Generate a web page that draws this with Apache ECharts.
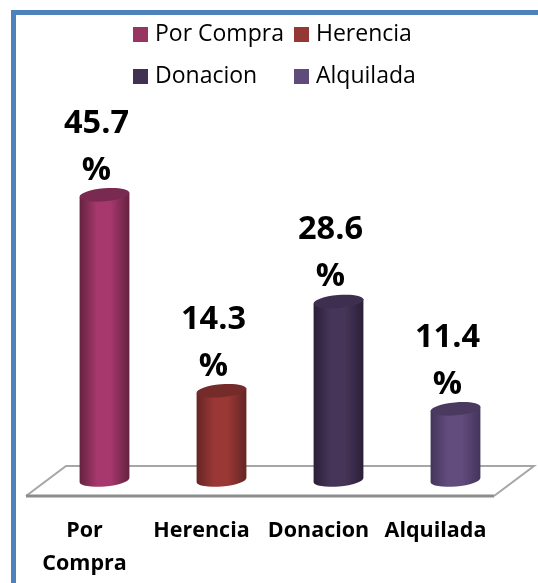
<!DOCTYPE html>
<html>
<head>
<meta charset="utf-8">
<style>
html, body { margin: 0; padding: 0; background: #fff; }
#main { width: 538px; height: 583px; }
</style>
<script src="https://cdn.jsdelivr.net/npm/echarts@6/dist/echarts.min.js"></script>
</head>
<body>
<div id="main"></div>
<script>
var categories = ['Por Compra', 'Herencia', 'Donacion', 'Alquilada'];
var values = [45.7, 14.3, 28.6, 11.4];
var swatchColors = ['#953560', '#953735', '#403152', '#604a7b'];
var midColors = ['#a6386d', '#9a3836', '#473559', '#624c7e'];
var edgeColors = ['#64223f', '#652523', '#2a1f38', '#44345a'];
var topColors = ['#7a2a50', '#752b29', '#3e2f50', '#4b3a60'];

var chart = echarts.init(document.getElementById('main'));

// the cylinders stand on the middle of the floor, not on its front edge
var depthX = 20, depthY = 16, rx = 25, ry = 6.5, tilt = 5;

function renderBar(idx) {
    return function (params, api) {
        var top = api.coord([api.value(0), api.value(1)]);
        var base = api.coord([api.value(0), 0]);
        var cx = top[0] + depthX;
        var yTop = top[1] - depthY;
        var yBase = base[1] - depthY;
        var dx = rx * Math.cos(tilt * Math.PI / 180);
        var dy = rx * Math.sin(tilt * Math.PI / 180);
        var body = 'M' + (cx - dx) + ' ' + (yTop + dy) +
            'L' + (cx - dx) + ' ' + (yBase + dy) +
            'A' + rx + ' ' + ry + ' ' + (-tilt) + ' 0 0 ' + (cx + dx) + ' ' + (yBase - dy) +
            'L' + (cx + dx) + ' ' + (yTop - dy) + 'Z';
        return {
            type: 'group',
            children: [
                {
                    type: 'path',
                    shape: { pathData: body },
                    style: {
                        fill: {
                            type: 'linear', x: 0, y: 0, x2: 1, y2: 0,
                            colorStops: [
                                { offset: 0, color: edgeColors[idx] },
                                { offset: 0.35, color: midColors[idx] },
                                { offset: 0.62, color: midColors[idx] },
                                { offset: 1, color: edgeColors[idx] }
                            ]
                        }
                    }
                },
                {
                    type: 'ellipse',
                    shape: { cx: 0, cy: 0, rx: rx, ry: ry },
                    x: cx,
                    y: yTop,
                    rotation: tilt * Math.PI / 180,
                    style: { fill: topColors[idx] }
                },
                {
                    type: 'text',
                    x: cx - 8,
                    y: yTop - 1,
                    style: {
                        text: api.value(1) + '\n%',
                        fill: '#000',
                        font: 'bold 32.5px "Open Sans"',
                        lineHeight: 47,
                        align: 'center',
                        verticalAlign: 'bottom'
                    }
                }
            ]
        };
    };
}

function renderFloor(params) {
    var g = params.coordSys;
    var left = g.x, right = g.x + g.width, front = g.y + g.height, back = front - 2 * depthY + 2;
    var skew = 40;
    return {
        type: 'group',
        children: [
            { type: 'polyline', shape: { points: [[left, front], [left + skew, back], [right + skew, back], [right, front]] },
              style: { fill: 'none', stroke: '#a6a6a6', lineWidth: 2 } },
            { type: 'line', shape: { x1: left, y1: front, x2: right, y2: front },
              style: { stroke: '#8c8c8c', lineWidth: 3 } }
        ]
    };
}

var series = [{
    type: 'custom',
    name: 'piso',
    z: 1,
    silent: true,
    renderItem: renderFloor,
    data: [[0, 0]]
}];
categories.forEach(function (name, i) {
    series.push({
        type: 'custom',
        name: name,
        z: 2,
        itemStyle: { color: swatchColors[i] },
        encode: { x: 0, y: 1 },
        renderItem: renderBar(i),
        data: [[i, values[i]]]
    });
});

// four legends, since the two rows do not share their gaps in the original
var legendPos = [[133, 23], [294, 23], [133, 65], [294, 65]];
var legends = categories.map(function (name, i) {
    return {
        left: legendPos[i][0],
        top: legendPos[i][1],
        padding: 0,
        selectedMode: false,
        icon: 'rect',
        itemWidth: 15,
        itemHeight: 15,
        textStyle: {
            fontFamily: 'Open Sans',
            fontSize: 23,
            color: '#000',
            padding: [0, 0, 0, 2]
        },
        data: [name]
    };
});

var option = {
    animation: false,
    backgroundColor: '#fff',
    tooltip: { show: false },
    legend: legends,
    grid: { left: 26, right: 44, top: 184, bottom: 87 },
    xAxis: {
        type: 'category',
        data: categories,
        axisLine: { show: false },
        axisTick: { show: false },
        axisLabel: {
            interval: 0,
            margin: 18,
            fontFamily: 'Open Sans',
            fontWeight: 'bold',
            fontSize: 21.5,
            lineHeight: 33,
            color: '#000',
            formatter: function (v) { return v.replace(' ', '\n'); }
        }
    },
    yAxis: { type: 'value', min: 0, max: 50, show: false },
    graphic: [{
        type: 'polyline',
        silent: true,
        shape: { points: [[13.5, 583], [13.5, 12.5], [538, 12.5]] },
        style: { fill: 'none', stroke: '#4f81bd', lineWidth: 5 }
    }],
    series: series
};

chart.setOption(option);
</script>
</body>
</html>
